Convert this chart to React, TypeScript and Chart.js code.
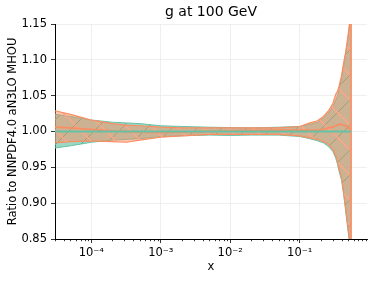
import React, { useEffect, useRef } from 'react';
import { Chart, registerables } from 'chart.js';

Chart.register(...registerables);

const xs = [3e-5, 5e-5, 1e-4, 2e-4, 3.2e-4, 5e-4, 1e-3, 2e-3, 5e-3, 1e-2, 2e-2, 5e-2, 0.1, 0.14, 0.18, 0.22, 0.26, 0.3, 0.33, 0.35, 0.37, 0.4, 0.43, 0.46, 0.49, 0.52, 0.55];

const tealCentral = [1, 1, 1, 1, 1, 1, 1, 1, 1, 1, 1, 1, 1, 1, 1, 1, 1, 1, 1, 1, 1, 1, 1, 1, 1, 1, 1];
const tealUpper = [1.024, 1.021, 1.016, 1.013, 1.012, 1.011, 1.008, 1.007, 1.006, 1.0055, 1.005, 1.006, 1.007, 1.010, 1.013, 1.019, 1.026, 1.035, 1.044, 1.050, 1.060, 1.075, 1.093, 1.109, 1.127, 1.147, 1.175];
const tealLower = [0.977, 0.980, 0.985, 0.988, 0.989, 0.990, 0.993, 0.994, 0.995, 0.9945, 0.995, 0.995, 0.993, 0.990, 0.987, 0.984, 0.979, 0.972, 0.963, 0.954, 0.944, 0.932, 0.911, 0.888, 0.865, 0.846, 0.815];

const orangeCentral = [1.006, 1.005, 1.003, 1.001, 1.000, 0.999, 0.9986, 0.999, 1.000, 1.001, 1.0015, 1.002, 1.002, 1.002, 1.002, 1.003, 1.005, 1.006, 1.008, 1.009, 1.010, 1.010, 1.009, 1.008, 1.006, 1.004, 1.003];
const orangeUpper = [1.029, 1.024, 1.016, 1.011, 1.009, 1.008, 1.006, 1.005, 1.005, 1.005, 1.005, 1.005, 1.007, 1.012, 1.015, 1.021, 1.029, 1.039, 1.052, 1.056, 1.064, 1.078, 1.096, 1.112, 1.130, 1.150, 1.180];
const orangeLower = [0.984, 0.986, 0.987, 0.986, 0.985, 0.988, 0.992, 0.994, 0.996, 0.996, 0.996, 0.996, 0.994, 0.991, 0.989, 0.986, 0.982, 0.975, 0.966, 0.958, 0.948, 0.936, 0.915, 0.892, 0.870, 0.850, 0.820];

const yTicks = [0.85, 0.9, 0.95, 1.0, 1.05, 1.1, 1.15];
const xMajorTicks = [1e-4, 1e-3, 1e-2, 1e-1];
const xMajorLabels = ['10\u207B\u2074', '10\u207B\u00B3', '10\u207B\u00B2', '10\u207B\u00B9'];
const xMinorMultipliers = [2, 3, 4, 5, 6, 7, 8, 9];
const xDecades = [1e-5, 1e-4, 1e-3, 1e-2, 1e-1];

const chartTitle = 'g at 100 GeV';
const yLabel = 'Ratio to NNPDF4.0 aN3LO MHOU';
const xLabel = 'x';

const X_MIN = 3e-5;
const X_MAX = 0.93;

const TEAL = '#66c2a5';
const ORANGE = '#fc8d62';
const FONT = 'DejaVu Sans';

function makeHatch(ctx: CanvasRenderingContext2D, fill: string, line: string, dir: string, size: number, lw: number) {
  const c = document.createElement('canvas');
  c.width = size;
  c.height = size;
  const g = c.getContext('2d') as CanvasRenderingContext2D;
  g.fillStyle = fill;
  g.fillRect(0, 0, size, size);
  g.strokeStyle = line;
  g.lineWidth = lw;
  g.beginPath();
  for (const off of [-size, 0, size]) {
    if (dir === '/') {
      g.moveTo(off, size);
      g.lineTo(off + size, 0);
    } else {
      g.moveTo(off, 0);
      g.lineTo(off + size, size);
    }
  }
  g.stroke();
  return ctx.createPattern(c, 'repeat');
}

function isMajorX(v: number) {
  return xMajorTicks.some((m) => Math.abs(Math.log10(v) - Math.log10(m)) < 1e-6);
}

function labelForX(v: number) {
  const i = xMajorTicks.findIndex((m) => Math.abs(Math.log10(v) - Math.log10(m)) < 1e-6);
  return i >= 0 ? xMajorLabels[i] : '';
}

const minorTickPlugin = {
  id: 'minorTicks',
  afterDraw(chart: any) {
    const s = chart.scales.x;
    const ctx = chart.ctx;
    ctx.save();
    ctx.strokeStyle = '#000';
    ctx.lineWidth = 0.8;
    for (const t of s.ticks) {
      if (t.major) continue;
      const px = Math.round(s.getPixelForValue(t.value)) + 0.5;
      ctx.beginPath();
      ctx.moveTo(px, s.top);
      ctx.lineTo(px, s.top + 2.2);
      ctx.stroke();
    }
    ctx.restore();
  },
};

export default function App() {
  const ref = useRef<HTMLCanvasElement | null>(null);

  useEffect(() => {
    const canvas = ref.current;
    if (!canvas) return;
    const ctx = canvas.getContext('2d') as CanvasRenderingContext2D;
    Chart.defaults.font.family = FONT;

    const tealPattern = makeHatch(ctx, 'rgba(102,194,165,0.65)', 'rgba(85,170,140,1)', '/', 25, 1);
    const orangePattern = makeHatch(ctx, 'rgba(252,141,98,0.5)', 'rgba(253,165,135,1)', '\\', 25, 1.5);

    const pts = (arr: number[]) => xs.map((x, i) => ({ x, y: arr[i] }));
    const last = xs.length - 1;

    const xTickValues: number[] = [];
    for (const d of xDecades) {
      for (const m of [1, ...xMinorMultipliers]) {
        const v = d * m;
        if (v >= X_MIN && v <= X_MAX) xTickValues.push(v);
      }
    }

    const chart = new Chart(ctx, {
      type: 'line',
      data: {
        datasets: [
          { label: 'teal central', data: pts(tealCentral), borderColor: TEAL, borderWidth: 2, fill: false, order: 0 },
          { label: 'orange central', data: pts(orangeCentral), borderColor: ORANGE, borderWidth: 1.8, fill: false, order: 1 },
          {
            label: 'orange edge',
            data: [{ x: xs[last], y: orangeUpper[last] }, { x: xs[last], y: orangeLower[last] }],
            borderColor: ORANGE, borderWidth: 1.5, fill: false, order: 2,
          },
          { label: 'orange upper', data: pts(orangeUpper), borderColor: ORANGE, borderWidth: 1.2, fill: 4, backgroundColor: orangePattern as any, order: 3 },
          { label: 'orange lower', data: pts(orangeLower), borderColor: ORANGE, borderWidth: 1.2, fill: false, order: 4 },
          { label: 'teal upper', data: pts(tealUpper), borderColor: TEAL, borderWidth: 1, fill: 6, backgroundColor: tealPattern as any, order: 5 },
          { label: 'teal lower', data: pts(tealLower), borderColor: TEAL, borderWidth: 1, fill: false, order: 6 },
        ] as any,
      },
      options: {
        animation: false,
        responsive: false,
        maintainAspectRatio: false,
        elements: { point: { radius: 0, hoverRadius: 0 }, line: { tension: 0 } },
        layout: { padding: { left: 0, right: 7, top: 0, bottom: 0 } },
        plugins: {
          legend: { display: false },
          tooltip: { enabled: false },
          title: {
            display: true,
            text: chartTitle,
            fullSize: false,
            color: '#000',
            font: { family: FONT, size: 14, weight: 'normal' as any },
            padding: { top: 4, bottom: 3.2 },
          },
        },
        scales: {
          x: {
            type: 'logarithmic',
            min: X_MIN,
            max: X_MAX,
            bounds: 'data',
            afterBuildTicks: (s: any) => {
              s.ticks = xTickValues.map((v) => ({ value: v, major: isMajorX(v) }));
            },
            afterFit: (s: any) => {
              s.height = 42;
            },
            grid: {
              color: (c: any) => (c.tick && c.tick.major ? '#ebebeb' : 'rgba(0,0,0,0)'),
              tickColor: (c: any) => (c.tick && c.tick.major ? '#000' : 'rgba(0,0,0,0)'),
              tickLength: 4,
              lineWidth: 0.8,
            },
            border: { color: '#000', width: 1 },
            ticks: {
              autoSkip: false,
              maxRotation: 0,
              minRotation: 0,
              padding: 3,
              color: '#000',
              font: { family: FONT, size: 11.5 },
              callback: (v: any) => labelForX(Number(v)),
            },
            title: {
              display: true,
              text: xLabel,
              color: '#000',
              font: { family: FONT, size: 11.5 },
              padding: { top: 7, bottom: 7 },
            },
          },
          y: {
            type: 'linear',
            min: 0.85,
            max: 1.15,
            afterBuildTicks: (s: any) => {
              s.ticks = yTicks.map((v) => ({ value: v }));
            },
            afterFit: (s: any) => {
              s.width = 55;
            },
            grid: { color: '#ebebeb', tickColor: '#000', tickLength: 4, lineWidth: 0.8 },
            border: { color: '#000', width: 1 },
            ticks: {
              padding: 4,
              color: '#000',
              font: { family: FONT, size: 11.5 },
              callback: (v: any) => Number(v).toFixed(2),
            },
            title: {
              display: true,
              text: yLabel,
              color: '#000',
              font: { family: FONT, size: 11.5 },
              padding: { top: 6, bottom: 0 },
            },
          },
        },
      } as any,
      plugins: [minorTickPlugin],
    });

    return () => chart.destroy();
  }, []);

  return (
    <div style={{ position: 'absolute', left: 0, top: 0, width: 374, height: 281, background: '#fff' }}>
      <canvas ref={ref} width={374} height={281} style={{ display: 'block', width: 374, height: 281 }} />
    </div>
  );
}
